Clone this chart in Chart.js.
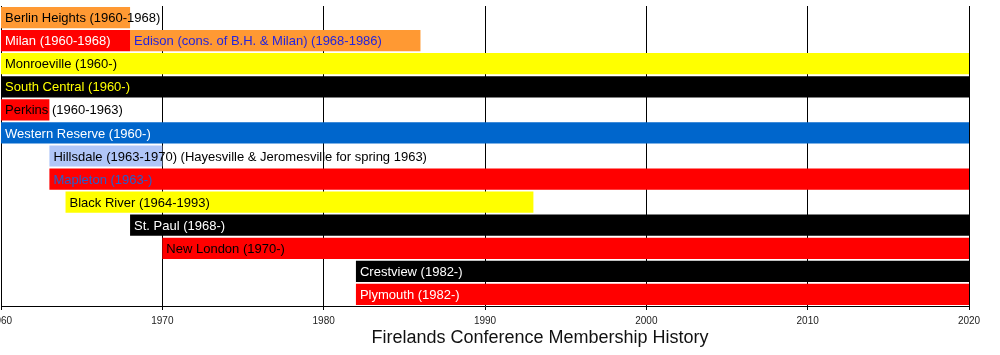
<!DOCTYPE html>
<html>
<head>
<meta charset="utf-8">
<script src="https://cdn.jsdelivr.net/npm/chart.js@4/dist/chart.umd.min.js"></script>
<style>
  html, body { margin: 0; padding: 0; background: #fff; }
  #wrap { width: 1000px; height: 355px; position: relative; }
</style>
</head>
<body>
<div id="wrap"><canvas id="c" width="1000" height="355"></canvas></div>
<script>
// ---- data ----
const rows = ['Berlin Heights', 'Milan', 'Monroeville', 'South Central', 'Perkins', 'Western Reserve',
  'Hillsdale', 'Mapleton', 'Black River', 'St. Paul', 'New London', 'Crestview', 'Plymouth'];
const startYears = [1960, 1960, 1960, 1960, 1960, 1960, 1963, 1963, 1964, 1968, 1970, 1982, 1982];
const endYears   = [1968, 1968, 2020, 2020, 1963, 2020, 1970, 2020, 1993, 2020, 2020, 2020, 2020];
const barLabels = [
  'Berlin Heights (1960-1968)',
  'Milan (1960-1968)',
  'Monroeville (1960-)',
  'South Central (1960-)',
  'Perkins (1960-1963)',
  'Western Reserve (1960-)',
  'Hillsdale (1963-1970) (Hayesville & Jeromesville for spring 1963)',
  'Mapleton (1963-)',
  'Black River (1964-1993)',
  'St. Paul (1968-)',
  'New London (1970-)',
  'Crestview (1982-)',
  'Plymouth (1982-)'
];
const barColors  = ['#FF9933', '#FF0000', '#FFFF00', '#000000', '#FF0000', '#0066CC',
  '#B0C6F8', '#FF0000', '#FFFF00', '#000000', '#FF0000', '#000000', '#FF0000'];
const textColors = ['#000000', '#FFFFFF', '#000000', '#FFFF00', '#000000', '#FFFFFF',
  '#000000', '#2060D0', '#000000', '#FFFFFF', '#000000', '#FFFFFF', '#FFFFFF'];

// successor bar sharing a row
const extraRow = 'Milan';
const extraStart = 1968;
const extraEnd = 1986;
const extraLabel = 'Edison (cons. of B.H. & Milan) (1968-1986)';
const extraColor = '#FF9933';
const extraTextColor = '#2424DC';

const xTicks = [1960, 1970, 1980, 1990, 2000, 2010, 2020];
const chartTitle = 'Firelands Conference Membership History';

// ---- build ----
const mainData = rows.map((r, i) => [startYears[i], endYears[i]]);
const extraData = rows.map(r => r === extraRow ? [extraStart, extraEnd] : null);

const FONT = '"Liberation Sans", Arial, Helvetica, sans-serif';

const labelPlugin = {
  id: 'barText',
  afterDatasetsDraw(chart) {
    const ctx = chart.ctx;
    ctx.save();
    ctx.font = '13px ' + FONT;
    ctx.textAlign = 'left';
    ctx.textBaseline = 'middle';
    chart.data.datasets.forEach((ds, di) => {
      const meta = chart.getDatasetMeta(di);
      meta.data.forEach((el, i) => {
        if (ds.data[i] == null) return;
        const txt = ds.barText[i];
        if (!txt) return;
        const left = Math.min(el.x, el.base);
        ctx.fillStyle = ds.textColor[i];
        ctx.fillText(txt, left + 4, el.y + 1);
      });
    });
    ctx.restore();
  }
};

const titlePlugin = {
  id: 'bottomTitle',
  afterDraw(chart) {
    const ctx = chart.ctx;
    ctx.save();
    ctx.font = '18px ' + FONT;
    ctx.fillStyle = '#111';
    ctx.textAlign = 'center';
    ctx.textBaseline = 'middle';
    ctx.fillText(chartTitle, 540, 338);
    ctx.restore();
  }
};

new Chart(document.getElementById('c'), {
  type: 'bar',
  data: {
    labels: rows,
    datasets: [
      {
        data: mainData,
        backgroundColor: barColors,
        borderWidth: 0,
        barText: barLabels,
        textColor: textColors
      },
      {
        data: extraData,
        backgroundColor: extraColor,
        borderWidth: 0,
        barText: rows.map(r => r === extraRow ? extraLabel : null),
        textColor: rows.map(() => extraTextColor)
      }
    ]
  },
  options: {
    indexAxis: 'y',
    responsive: false,
    animation: false,
    events: [],
    grouped: false,
    categoryPercentage: 1.0,
    barPercentage: 0.92,
    layout: { padding: { left: 1, right: 31, top: 6, bottom: 0 } },
    plugins: {
      legend: { display: false },
      tooltip: { enabled: false },
      title: { display: false }
    },
    scales: {
      x: {
        type: 'linear',
        min: xTicks[0],
        max: xTicks[xTicks.length - 1],
        afterBuildTicks: (scale) => { scale.ticks = xTicks.map(v => ({ value: v })); },
        afterFit: (scale) => { scale.paddingLeft = 0; scale.paddingRight = 0; scale.height = 49; },
        grid: {
          color: '#000000',
          lineWidth: 1,
          drawTicks: true,
          tickLength: 4,
          tickColor: '#000000'
        },
        border: { display: true, color: '#000000', width: 1 },
        ticks: {
          padding: 5,
          maxRotation: 0,
          autoSkip: false,
          color: '#222',
          font: { family: FONT, size: 10 },
          callback: (v) => String(v)
        }
      },
      y: {
        display: false,
        offset: true
      }
    }
  },
  plugins: [labelPlugin, titlePlugin]
});
</script>
</body>
</html>
